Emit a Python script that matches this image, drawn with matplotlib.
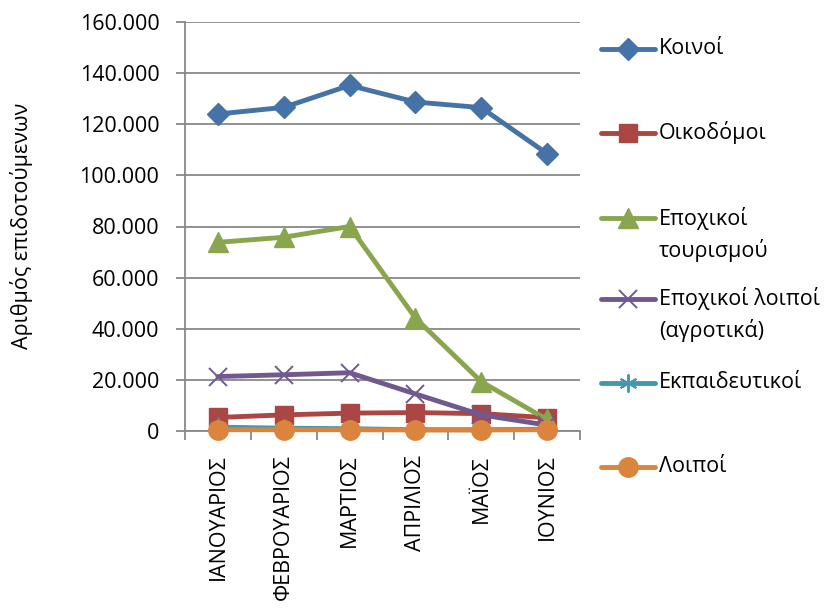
import matplotlib
matplotlib.use("Agg")
import matplotlib.pyplot as plt
from matplotlib.lines import Line2D
from matplotlib.ticker import FuncFormatter, FixedLocator

plt.rcParams['font.family'] = ['Open Sans', 'DejaVu Sans']

months = ["ΙΑΝΟΥΑΡΙΟΣ", "ΦΕΒΡΟΥΑΡΙΟΣ", "ΜΑΡΤΙΟΣ", "ΑΠΡΙΛΙΟΣ", "ΜΑΪΟΣ", "ΙΟΥΝΙΟΣ"]
koinoi = [124000, 126600, 135200, 128700, 126500, 108500]
oikodomoi = [5300, 6300, 7000, 7200, 6800, 5200]
epox_tour = [73800, 75800, 80000, 44200, 19300, 4500]
epox_loipoi = [21300, 22000, 22800, 14500, 6300, 2300]
ekpaid = [1500, 1100, 900, 500, 500, 700]
loipoi = [500, 500, 500, 400, 400, 500]

labels = ["Κοινοί", "Οικοδόμοι", "Εποχικοί\nτουρισμού", "Εποχικοί λοιποί\n(αγροτικά)",
          "Εκπαιδευτικοί", "Λοιποί"]
series = [koinoi, oikodomoi, epox_tour, epox_loipoi, ekpaid, loipoi]
colors = ["#4572A7", "#AA4643", "#89A54E", "#71588F", "#4198AF", "#DB843D"]
markers = ["D", "s", "^", "x", (6, 2, 0), "o"]
msizes = [11, 12.5, 14, 13, 13, 14]

FS = 15.5

fig = plt.figure(figsize=(8.34, 6.13), dpi=100)
ax = fig.add_axes([185/834, 1-431/613, 395/834, 409/613])


def mk_kw(m, c):
    if m == "x" or isinstance(m, tuple):
        return dict(markeredgecolor=c, markerfacecolor="none", markeredgewidth=1.4)
    return dict(markeredgecolor=c, markerfacecolor=c)


x = list(range(len(months)))
for vals, c, m, ms in zip(series, colors, markers, msizes):
    ax.plot(x, vals, color=c, lw=3.5, marker=m, ms=ms, solid_joinstyle='round',
            solid_capstyle='round', clip_on=False, zorder=3, **mk_kw(m, c))

ax.set_xlim(-0.5, len(months)-0.5)
ax.set_ylim(0, 160000)
ax.set_yticks(range(0, 160001, 20000))
ax.yaxis.set_major_formatter(FuncFormatter(lambda v, p: "0" if v == 0 else f"{int(v):,}".replace(",", ".")))
ax.grid(axis='y', color='#888888', lw=1.3)
ax.set_axisbelow(True)
ax.set_xticks(x)
ax.set_xticklabels(months, rotation=90, fontsize=FS)
ax.tick_params(axis='x', length=0, pad=17)
ax.xaxis.set_minor_locator(FixedLocator([i - 0.5 for i in range(len(months)+1)]))
ax.tick_params(axis='x', which='minor', length=6.5, width=1.3, color='#888888', direction='out')
ax.tick_params(axis='y', length=6.5, width=1.3, color='#888888', labelsize=FS, pad=12)
for s in ['top', 'right']:
    ax.spines[s].set_visible(False)
for s in ['left', 'bottom']:
    ax.spines[s].set_color('#888888')
    ax.spines[s].set_linewidth(1.3)

fig.text(22/834, 1-226/613, "Αριθμός επιδοτούμενων", rotation=90, ha='center', va='center', fontsize=FS)

# legend (symbols aligned with first text line, as in the reference)
leg_y = [49, 133, 218, 299, 383, 467]
for lab, c, m, ms, yy in zip(labels, colors, markers, msizes, leg_y):
    yf = 1 - yy/613
    ln = Line2D([601/834, 628/834, 655/834], [yf, yf, yf], transform=fig.transFigure,
                color=c, lw=3.5, marker=m, ms=ms, markevery=[1], solid_capstyle='round',
                **mk_kw(m, c))
    fig.add_artist(ln)
    for i, part in enumerate(lab.split("\n")):
        fig.text(659/834, 1 - (yy + i*32)/613, part, ha='left', va='center', fontsize=FS)

fig.savefig("out.png", dpi=100)
